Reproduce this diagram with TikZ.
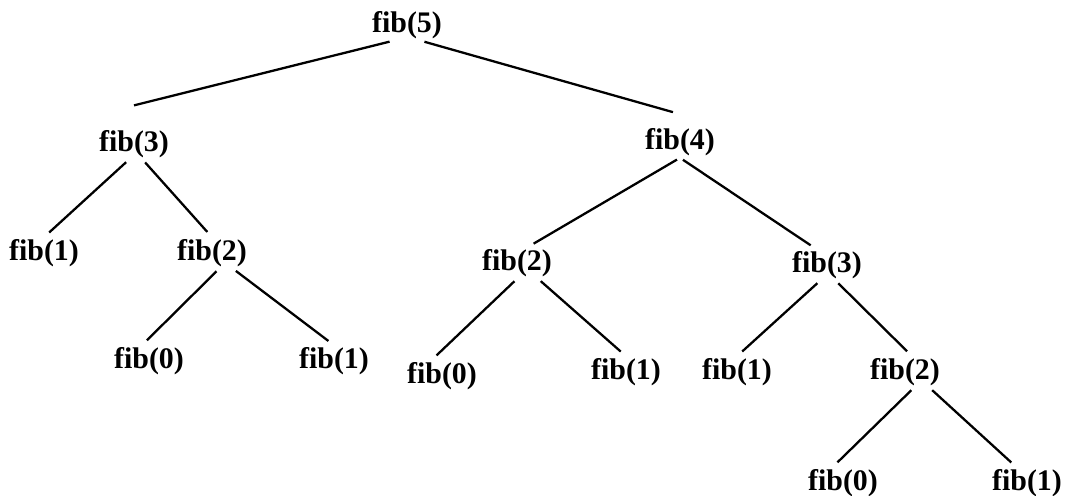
\documentclass[tikz,border=0pt]{standalone}
\usepackage{fontspec}
\setmainfont{Liberation Serif}
\usepackage{tikz}

\begin{document}
\begin{tikzpicture}[
      x=0.02cm, y=-0.02cm,
      call/.style={inner sep=1pt, font=\fontsize{17}{20}\selectfont\bfseries},
      link/.style={line width=1.3pt, shorten <=2pt, shorten >=4pt}
    ]
      \useasboundingbox (0,0) rectangle (1087,495);

      \node[call] (n5) at (407,25) {fib(5)};

      \node[call] (n3a) at (134,144) {fib(3)};
      \node[call] (n4) at (680,142) {fib(4)};

      \node[call] (n1a) at (44,253) {fib(1)};
      \node[call] (n2a) at (212,253) {fib(2)};
      \node[call] (n2b) at (517,263) {fib(2)};
      \node[call] (n3b) at (827,265) {fib(3)};

      \node[call] (n0a) at (149,361) {fib(0)};
      \node[call] (n1b) at (334,361) {fib(1)};
      \node[call] (n0b) at (442,376) {fib(0)};
      \node[call] (n1c) at (626,372) {fib(1)};
      \node[call] (n1d) at (737,372) {fib(1)};
      \node[call] (n2c) at (905,372) {fib(2)};

      \node[call] (n0c) at (843,483) {fib(0)};
      \node[call] (n1e) at (1027,483) {fib(1)};

      \draw[link, shorten >=0pt] ([xshift=-8pt]n5.south) -- ([yshift=13pt]n3a.north);
      \draw[link, shorten >=0pt] ([xshift=8pt]n5.south) -- ([xshift=-4pt,yshift=8pt]n4.north);
      \draw[link] ([xshift=-3pt]n3a.south) -- (n1a.north);
      \draw[link] ([xshift=5pt]n3a.south) -- (n2a.north);
      \draw[link] (n4.south) -- ([xshift=6pt]n2b.north);
      \draw[link] (n4.south) -- ([xshift=-6pt]n3b.north);
      \draw[link] ([xshift=4pt]n2a.south) -- ([xshift=-4pt]n0a.north);
      \draw[link] ([xshift=12pt]n2a.south) -- (n1b.north);
      \draw[link] (n2b.south) -- ([xshift=-6pt]n0b.north);
      \draw[link] ([xshift=12pt]n2b.south) -- (n1c.north);
      \draw[link] ([xshift=-4pt]n3b.south) -- (n1d.north);
      \draw[link] ([xshift=5pt]n3b.south) -- ([xshift=4pt]n2c.north);
      \draw[link] ([xshift=5pt]n2c.south) -- ([xshift=-6pt]n0c.north);
      \draw[link] ([xshift=14pt]n2c.south) -- ([xshift=-6pt]n1e.north);
    \end{tikzpicture}
\end{document}
